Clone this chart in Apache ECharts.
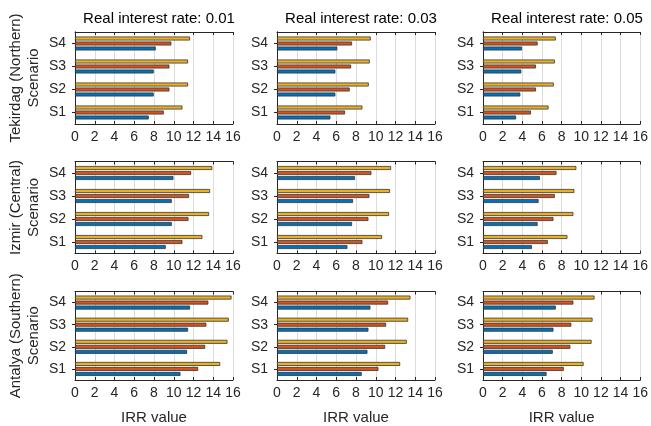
<!DOCTYPE html>
<html lang="en">
<head>
    <meta charset="UTF-8">
    <title>IRR by scenario</title>
    <script src="https://cdn.jsdelivr.net/npm/echarts@6/dist/echarts.min.js"></script>
    <style>
        body { margin: 0; background: #fff; }
    </style>
</head>
<body>
    <div id="main" style="width: 651px;height:426px;"></div>
    <script type="text/javascript">

        var categories = ['S1', 'S2', 'S3', 'S4'];
        var rates = ['0.01', '0.03', '0.05'];
        var regions = ['Tekirdag (Northern)', 'Izmir (Central)', 'Antalya (Southern)'];
        var xTicks = [0, 2, 4, 6, 8, 10, 12, 14, 16];

        // one row per interest rate (0.01, 0.03, 0.05), values for S1..S4
        var tekirdagBlue   = [[7.47, 7.97, 7.97, 8.18], [5.41, 5.91, 5.91, 6.11], [3.37, 3.8, 3.9, 3.97]];
        var tekirdagOrange = [[8.99, 9.56, 9.56, 9.76], [6.89, 7.36, 7.5, 7.6], [4.88, 5.39, 5.39, 5.56]];
        var tekirdagYellow = [[10.88, 11.45, 11.45, 11.65], [8.65, 9.29, 9.39, 9.49], [6.67, 7.2, 7.31, 7.41]];

        var izmirBlue   = [[9.19, 9.8, 9.8, 9.97], [7.13, 7.6, 7.7, 7.9], [4.98, 5.56, 5.66, 5.79]];
        var izmirOrange = [[10.88, 11.49, 11.55, 11.76], [8.65, 9.26, 9.36, 9.56], [6.6, 7.17, 7.31, 7.48]];
        var izmirYellow = [[12.9, 13.58, 13.68, 13.9], [10.64, 11.35, 11.45, 11.55], [8.59, 9.2, 9.3, 9.5]];

        var antalyaBlue   = [[10.68, 11.35, 11.45, 11.65], [8.58, 9.16, 9.26, 9.46], [6.47, 7.1, 7.17, 7.41]];
        var antalyaOrange = [[12.47, 13.18, 13.3, 13.5], [10.27, 10.95, 11.05, 11.25], [8.22, 8.89, 8.99, 9.2]];
        var antalyaYellow = [[14.7, 15.44, 15.57, 15.85], [12.47, 13.14, 13.28, 13.51], [10.24, 11.05, 11.15, 11.35]];

        var blueSets = [tekirdagBlue, izmirBlue, antalyaBlue];
        var orangeSets = [tekirdagOrange, izmirOrange, antalyaOrange];
        var yellowSets = [tekirdagYellow, izmirYellow, antalyaYellow];
        var colors = ['#0072BD', '#D95319', '#EDB120'];

        var colLeft = [75, 277, 483];
        var rowTop = [32, 161.5, 291.5];
        var plotW = 158, plotH = 92;
        var axisColor = '#262626';
        var font = 'Liberation Sans, Arial, sans-serif';

        var myChart = echarts.init(document.getElementById('main'));

        var grids = [], xAxes = [], yAxes = [], series = [], titles = [];

        for (var r = 0; r < 3; r++) {
            for (var c = 0; c < 3; c++) {
                var g = grids.length;
                grids.push({left: colLeft[c], top: rowTop[r], width: plotW, height: plotH});

                // bottom x axis with labels
                xAxes.push({
                    gridIndex: g, type: 'value', min: 0, max: 16, interval: 2,
                    position: 'bottom',
                    name: r === 2 ? 'IRR value' : '',
                    nameLocation: 'middle', nameGap: 30,
                    nameTextStyle: {fontSize: 15, color: axisColor, fontFamily: font},
                    axisLine: {show: true, lineStyle: {color: axisColor, width: 1}},
                    axisTick: {show: true, inside: true, length: 3, lineStyle: {color: axisColor}},
                    axisLabel: {fontSize: 14, color: axisColor, fontFamily: font, margin: 6},
                    splitLine: {show: true, lineStyle: {color: '#dcdcdc', width: 1}}
                });
                // top x axis, box only
                xAxes.push({
                    gridIndex: g, type: 'value', min: 0, max: 16, interval: 2,
                    position: 'top',
                    axisLine: {show: true, lineStyle: {color: axisColor, width: 1}},
                    axisTick: {show: true, inside: true, length: 3, lineStyle: {color: axisColor}},
                    axisLabel: {show: false},
                    splitLine: {show: false}
                });
                // left category axis
                yAxes.push({
                    gridIndex: g, type: 'category', data: categories, position: 'left',
                    name: c === 0 ? regions[r] + '\nScenario' : '',
                    nameLocation: 'middle', nameGap: 32, nameRotate: 90,
                    nameTextStyle: {fontSize: 15, color: axisColor, fontFamily: font, lineHeight: 18},
                    axisLine: {show: true, lineStyle: {color: axisColor, width: 1}},
                    axisTick: {show: true, inside: true, length: 3, alignWithLabel: true, lineStyle: {color: axisColor}},
                    axisLabel: {fontSize: 14, color: axisColor, fontFamily: font, margin: 9}
                });
                // right category axis, box only
                yAxes.push({
                    gridIndex: g, type: 'category', data: categories, position: 'right',
                    axisLine: {show: true, lineStyle: {color: axisColor, width: 1}},
                    axisTick: {show: true, inside: true, length: 3, alignWithLabel: true, lineStyle: {color: axisColor}},
                    axisLabel: {show: false}
                });

                // yellow first so it sits on top of each group, blue at the bottom
                var sets = [yellowSets[r][c], orangeSets[r][c], blueSets[r][c]];
                var setColors = [colors[2], colors[1], colors[0]];
                for (var s = 0; s < 3; s++) {
                    series.push({
                        type: 'bar',
                        xAxisIndex: 2 * g, yAxisIndex: 2 * g,
                        data: sets[s],
                        barWidth: 4,
                        barGap: '25%',
                        itemStyle: {color: setColors[s], borderColor: '#333', borderWidth: 0.8},
                        silent: true
                    });
                }
            }
        }

        for (var k = 0; k < 3; k++) {
            titles.push({
                text: 'Real interest rate: ' + rates[k],
                left: colLeft[k] + plotW / 2, top: 6, textAlign: 'center',
                textStyle: {fontSize: 15, fontWeight: 'normal', color: '#000', fontFamily: font}
            });
        }

        option = {
            animation: false,
            title: titles,
            grid: grids,
            xAxis: xAxes,
            yAxis: yAxes,
            series: series
        };

        myChart.setOption(option);

    </script>
</body>
</html>
